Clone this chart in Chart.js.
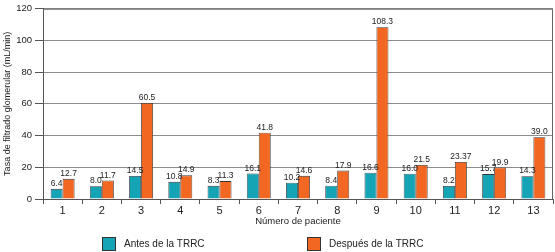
<!DOCTYPE html>
<html>
<head>
<meta charset="utf-8">
<script src="https://cdn.jsdelivr.net/npm/chart.js@4.4.1/dist/chart.umd.min.js"></script>
<style>
html,body{margin:0;padding:0;background:#fff;}
#wrap{width:555px;height:252px;position:relative;}
</style>
</head>
<body>
<div id="wrap"><canvas id="c" width="555" height="252"></canvas></div>
<script>
const categories = ["1","2","3","4","5","6","7","8","9","10","11","12","13"];
const antesValues = [6.4, 8.0, 14.5, 10.8, 8.3, 16.1, 10.2, 8.4, 16.6, 16.0, 8.2, 15.7, 14.3];
const despuesValues = [12.7, 11.7, 60.5, 14.9, 11.3, 41.8, 14.6, 17.9, 108.3, 21.5, 23.37, 19.9, 39.0];
const antesLabels = ["6.4","8.0","14.5","10.8","8.3","16.1","10.2","8.4","16.6","16.0","8.2","15.7","14.3"];
const despuesLabels = ["12.7","11.7","60.5","14.9","11.3","41.8","14.6","17.9","108.3","21.5","23.37","19.9","39.0"];
const yTicks = [0, 20, 40, 60, 80, 100, 120];
const seriesNames = ["Antes de la TRRC", "Después de la TRRC"];
const seriesColors = ["#15a3b6", "#f26823"];

const FONT = "'Liberation Sans', Arial, Helvetica, sans-serif";

const valueLabels = {
  id: 'valueLabels',
  afterDatasetsDraw(chart) {
    const ctx = chart.ctx;
    ctx.save();
    ctx.font = "8.5px " + FONT;
    ctx.fillStyle = "#222";
    ctx.textAlign = "center";
    ctx.textBaseline = "bottom";
    const sets = [antesLabels, despuesLabels];
    chart.data.datasets.forEach((ds, i) => {
      const meta = chart.getDatasetMeta(i);
      meta.data.forEach((bar, j) => {
        ctx.fillText(sets[i][j], bar.x, bar.y - 1);
      });
    });
    ctx.restore();
  }
};

const frame = {
  id: 'frame',
  beforeDatasetsDraw(chart) {
    const a = chart.chartArea, ctx = chart.ctx;
    ctx.save();
    ctx.strokeStyle = "#666";
    ctx.lineWidth = 1;
    ctx.beginPath();
    ctx.moveTo(a.left, a.top + 0.5);
    ctx.lineTo(a.right - 0.5, a.top + 0.5);
    ctx.lineTo(a.right - 0.5, a.bottom);
    ctx.stroke();
    ctx.restore();
  }
};

const customLegend = {
  id: 'customLegend',
  afterDraw(chart) {
    const ctx = chart.ctx;
    const items = [{ x: 102 }, { x: 307 }];
    ctx.save();
    ctx.font = "10px " + FONT;
    ctx.textBaseline = "middle";
    ctx.textAlign = "left";
    items.forEach((it, i) => {
      ctx.fillStyle = seriesColors[i];
      ctx.fillRect(it.x, 237, 13, 13);
      ctx.strokeStyle = "#333";
      ctx.lineWidth = 1;
      ctx.strokeRect(it.x + 0.5, 237.5, 13, 13);
      ctx.fillStyle = "#222";
      ctx.fillText(seriesNames[i], it.x + 22, 244.5);
    });
    ctx.restore();
  }
};

new Chart(document.getElementById('c'), {
  type: 'bar',
  data: {
    labels: categories,
    datasets: [
      { label: seriesNames[0], data: antesValues, backgroundColor: seriesColors[0], borderColor: '#333', borderWidth: 0.8, borderSkipped: 'bottom' },
      { label: seriesNames[1], data: despuesValues, backgroundColor: seriesColors[1], borderColor: '#333', borderWidth: 0.8, borderSkipped: 'bottom' }
    ]
  },
  options: {
    responsive: false,
    animation: false,
    devicePixelRatio: 1,
    layout: { padding: { top: 7, right: 2, left: 0, bottom: 0 } },
    datasets: { bar: { barPercentage: 1.0, categoryPercentage: 0.61 } },
    plugins: {
      legend: { display: false },
      tooltip: { enabled: false }
    },
    scales: {
      x: {
        afterFit(scale) { scale.height = 53; },
        grid: { offset: true, drawOnChartArea: false, drawTicks: true, tickLength: 5, color: '#555' },
        border: { color: '#555', width: 1 },
        ticks: { font: { family: FONT, size: 11 }, color: '#222', padding: 0, autoSkip: false, maxRotation: 0 },
        title: { display: true, text: 'Número de paciente', font: { family: FONT, size: 9.5 }, color: '#222', padding: { top: 0, bottom: 25 } }
      },
      y: {
        min: 0, max: 120,
        afterFit(scale) { scale.width = 43; },
        afterBuildTicks(scale) { scale.ticks = yTicks.map(v => ({ value: v })); },
        grid: { color: '#8c8c8c', tickLength: 8, tickColor: '#555' },
        border: { color: '#555', width: 1 },
        ticks: { font: { family: FONT, size: 9.5 }, color: '#222', padding: 3, autoSkip: false },
        title: { display: true, text: 'Tasa de filtrado glomerular (mL/min)', font: { family: FONT, size: 9 }, color: '#222', padding: { top: 2, bottom: 0 } }
      }
    }
  },
  plugins: [frame, valueLabels, customLegend]
});
</script>
</body>
</html>
